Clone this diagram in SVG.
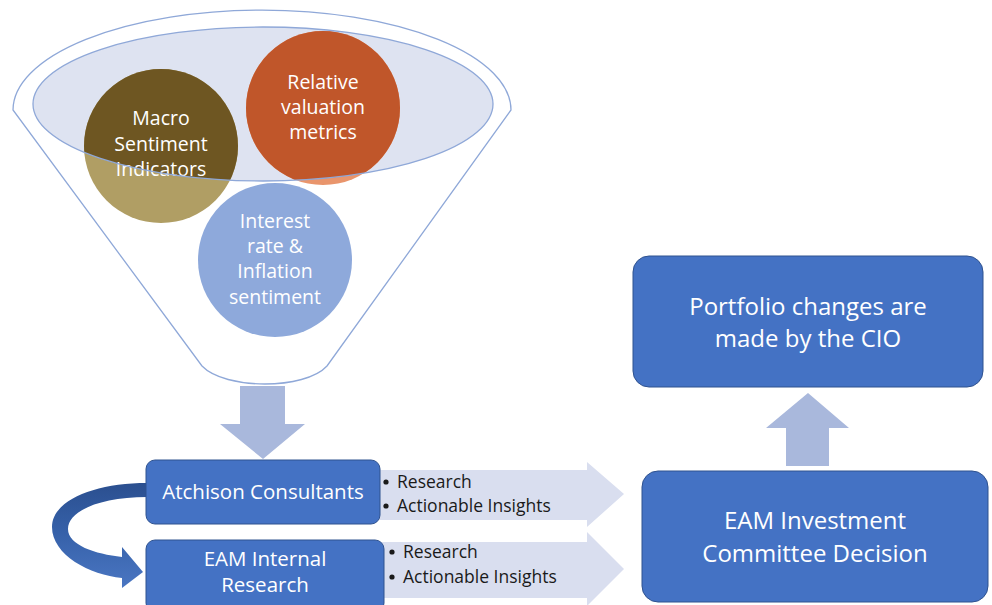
<svg xmlns="http://www.w3.org/2000/svg" width="992" height="605" viewBox="0 0 992 605">
<defs>
<style>
.t{font-family:"Open Sans","Liberation Sans",sans-serif;fill:#fff;text-anchor:middle}
.c{font-size:19.5px}
.b{font-family:"Open Sans","Liberation Sans",sans-serif;fill:#1a1a1a;font-size:17.5px}
.dot{fill:#1a1a1a}
.box{fill:#4472C4;stroke:#2F528F;stroke-width:1}
.la{fill:#D9DEEF}
.da{fill:#A9B8DC}
</style>
<clipPath id="ell"><ellipse cx="263" cy="104" rx="230" ry="77"/></clipPath>
<linearGradient id="cg" x1="0" y1="0" x2="0" y2="1">
<stop offset="0" stop-color="#2B4F8F"/>
<stop offset="0.45" stop-color="#3560A8"/>
<stop offset="1" stop-color="#4A76C2"/>
</linearGradient>
</defs>
<rect width="992" height="605" fill="#fff"/>

<g id="funnel">
<path d="M13,110 A249,100 0 0 1 511,110 L327,366 C305,390 225,390 202,366 Z" fill="#fff" stroke="#8FA8D8" stroke-width="1.3"/>
<ellipse cx="263" cy="104" rx="230" ry="77" fill="#DEE3F1"/>
</g>

<g id="macro">
<circle cx="161" cy="146" r="77" fill="#B09E64"/>
<circle cx="161" cy="146" r="77" fill="#6E5622" clip-path="url(#ell)"/>
<text class="t c" x="161" y="125">Macro</text>
<text class="t c" x="161" y="151">Sentiment</text>
<text class="t c" x="161" y="176">Indicators</text>
</g>

<g id="relative">
<circle cx="323" cy="108" r="77" fill="#E9956C"/>
<circle cx="323" cy="108" r="77" fill="#C0562A" clip-path="url(#ell)"/>
<text class="t c" x="323" y="89">Relative</text>
<text class="t c" x="323" y="114">valuation</text>
<text class="t c" x="323" y="139">metrics</text>
</g>

<ellipse cx="263" cy="104" rx="230" ry="77" fill="none" stroke="#8FA8D8" stroke-width="1.3"/>

<g id="interest">
<circle cx="275" cy="260" r="77" fill="#8EA9DB"/>
<text class="t c" x="275" y="228">Interest</text>
<text class="t c" x="275" y="253">rate &amp;</text>
<text class="t c" x="275" y="278">Inflation</text>
<text class="t c" x="275" y="304">sentiment</text>
</g>

<g id="connectors">
<path class="da" d="M240,386 L285,386 L285,424 L305,424 L263,459 L220,424 L240,424 Z"/>
<path class="la" d="M370,470 L587,470 L587,462 L624,494 L587,527 L587,520 L370,520 Z"/>
<path class="la" d="M370,542 L587,542 L587,532 L624,569 L587,606 L587,598 L370,598 Z"/>
<path class="da" d="M786,466 L786,428 L766,428 L808,393 L849,428 L829,428 L829,466 Z"/>
<path fill="url(#cg)" d="M147,483 C95,483 52,500 52,527 C52,555 90,575 122,578 L122,588 L143,572 L122,547 L122,557 C95,554 68,545 68,529 C68,511 100,497 147,497 Z"/>
</g>

<g id="atchison">
<rect class="box" x="146" y="460" width="234" height="64" rx="9"/>
<text class="t" font-size="20.5" x="263" y="499">Atchison Consultants</text>
</g>
<g id="atchison-bullets">
<circle class="dot" cx="386" cy="482" r="2.6"/>
<text class="b" x="397" y="488">Research</text>
<circle class="dot" cx="386" cy="506" r="2.6"/>
<text class="b" x="397" y="512">Actionable Insights</text>
</g>

<g id="internal">
<rect class="box" x="146" y="540" width="238" height="72" rx="9"/>
<text class="t" font-size="20.5" x="265" y="566">EAM Internal</text>
<text class="t" font-size="20.5" x="265" y="592">Research</text>
</g>
<g id="internal-bullets">
<circle class="dot" cx="392" cy="552" r="2.6"/>
<text class="b" x="403" y="558">Research</text>
<circle class="dot" cx="392" cy="577" r="2.6"/>
<text class="b" x="403" y="583">Actionable Insights</text>
</g>

<g id="decision">
<rect class="box" x="642" y="471" width="346" height="131" rx="16"/>
<text class="t" font-size="24" x="815" y="529">EAM Investment</text>
<text class="t" font-size="24" x="815" y="562">Committee Decision</text>
</g>

<g id="portfolio">
<rect class="box" x="633" y="256" width="350" height="131" rx="16"/>
<text class="t" font-size="24" x="808" y="315">Portfolio changes are</text>
<text class="t" font-size="24" x="808" y="347">made by the CIO</text>
</g>
</svg>
